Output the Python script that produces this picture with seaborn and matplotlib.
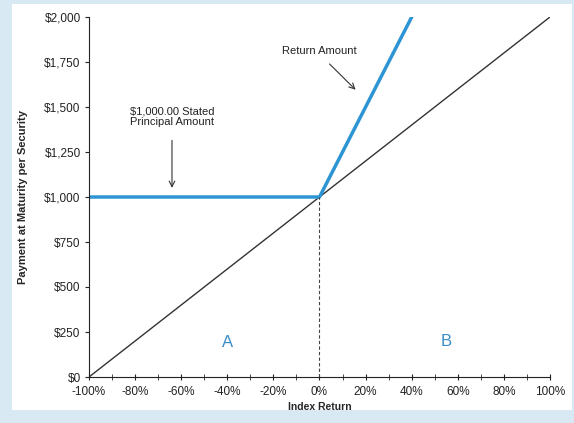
import matplotlib
matplotlib.use("Agg")
import matplotlib.pyplot as plt
import matplotlib.ticker as mticker
from matplotlib.patches import Rectangle
import numpy as np
import seaborn as sns
import pandas as pd

# data
index_return = [-1.0, 0.0, 0.4]
payment = [1000, 1000, 2000]
ref_return = [-1.0, 1.0]
ref_payment = [0, 2000]
x_ticks = [-1.0, -0.8, -0.6, -0.4, -0.2, 0.0, 0.2, 0.4, 0.6, 0.8, 1.0]
y_ticks = [0, 250, 500, 750, 1000, 1250, 1500, 1750, 2000]

sns.set_style("ticks")
plt.rcParams['font.family'] = ['Liberation Sans', 'DejaVu Sans']

blue = '#2d95d3'
fig = plt.figure(figsize=(5.74, 4.23), dpi=100)
fig.patch.set_facecolor('#d8e9f3')
fig.add_artist(Rectangle((12 / 574, 13 / 423), 560 / 574, 406 / 423,
                         transform=fig.transFigure, facecolor='white',
                         edgecolor='none', zorder=-10))
ax = fig.add_axes([89 / 574, 46 / 423, 461 / 574, 360 / 423])
ax.set_facecolor('none')

df_ref = pd.DataFrame({'x': ref_return, 'y': ref_payment})
df_pay = pd.DataFrame({'x': index_return, 'y': payment})
sns.lineplot(data=df_ref, x='x', y='y', ax=ax, color='#333333', lw=1.0)
sns.lineplot(data=df_pay, x='x', y='y', ax=ax, color=blue, lw=2.5)
ax.plot([0, 0], [0, 1000], color='#444444', lw=0.8, ls=(0, (3, 2)))

ax.set_xlim(-1, 1)
ax.set_ylim(0, 2000)
ax.set_xticks(x_ticks)
ax.set_yticks(y_ticks)
ax.xaxis.set_minor_locator(mticker.MultipleLocator(0.1))
ax.xaxis.set_major_formatter(mticker.FuncFormatter(lambda v, p: f"{v * 100:.0f}%"))
ax.yaxis.set_major_formatter(mticker.FuncFormatter(lambda v, p: f"${v:,.0f}"))
ax.tick_params(axis='both', labelsize=8.5, colors='#222222', width=0.8)
ax.tick_params(axis='x', which='both', direction='inout', length=5, pad=4)
ax.tick_params(axis='y', direction='out', length=3, pad=3)
sns.despine(ax=ax)
for s in ['left', 'bottom']:
    ax.spines[s].set_color('#222222')
    ax.spines[s].set_linewidth(0.8)

ax.set_xlabel('Index Return', fontsize=7.5, fontweight='bold', labelpad=3)
ax.set_ylabel('Payment at Maturity per Security', fontsize=8, fontweight='bold', labelpad=12)

ax.text(0.0, 1810, 'Return Amount', fontsize=8, ha='center', va='center', color='#222222')
ax.annotate('', xy=(0.165, 1585), xytext=(0.035, 1750),
            arrowprops=dict(arrowstyle='->', color='#333333', lw=0.8))
ax.text(-0.64, 1445, '$1,000.00 Stated\nPrincipal Amount', fontsize=8,
        ha='center', va='center', color='#222222', linespacing=1.0)
ax.annotate('', xy=(-0.64, 1035), xytext=(-0.64, 1330),
            arrowprops=dict(arrowstyle='->', color='#333333', lw=0.8))

ax.text(-0.40, 190, 'A', fontsize=12, color='#3a8cc6', ha='center', va='center')
ax.text(0.55, 195, 'B', fontsize=12, color='#3a8cc6', ha='center', va='center')

fig.savefig('out.png', dpi=100, facecolor=fig.get_facecolor())
